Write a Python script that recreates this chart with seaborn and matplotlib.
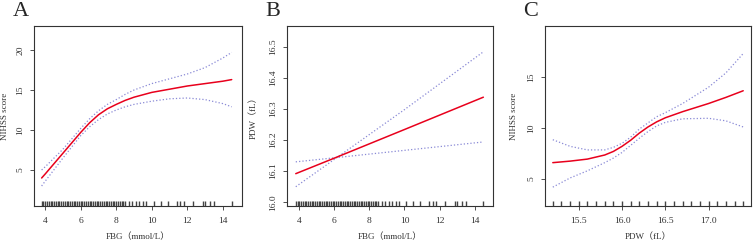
import numpy as np
import pandas as pd
import matplotlib
matplotlib.use("Agg")
import matplotlib.pyplot as plt
import seaborn as sns

# --- Data ---
# Panel A: NIHSS score vs FBG (restricted cubic spline fit + 95% CI)
fbg_a = [3.8, 4.0, 5.0, 6.0, 6.5, 7.0, 7.5, 8.0, 8.5, 9.0, 10.0, 11.0, 12.0, 13.0, 14.0, 14.5]
nihss_a = [4.0, 4.5, 7.1, 9.7, 10.9, 11.9, 12.65, 13.2, 13.7, 14.1, 14.7, 15.1, 15.5, 15.8, 16.1, 16.3]
nihss_a_hi = [5.0, 5.4, 7.6, 10.2, 11.4, 12.4, 13.2, 13.8, 14.45, 15.0, 15.8, 16.4, 17.0, 17.8, 19.0, 19.7]
nihss_a_lo = [3.0, 3.6, 6.5, 9.3, 10.4, 11.3, 12.0, 12.5, 12.9, 13.2, 13.6, 13.9, 14.0, 13.8, 13.3, 12.9]

# Panel B: PDW vs FBG (linear)
fbg_b = [3.8, 6.0, 10.0, 14.5]
pdw_b = [16.092, 16.142, 16.234, 16.338]
pdw_b_hi = [16.05, 16.138, 16.298, 16.484]
pdw_b_lo = [16.13, 16.143, 16.167, 16.194]

# Panel C: NIHSS score vs PDW
pdw_c = [15.2, 15.4, 15.6, 15.8, 15.9, 16.0, 16.1, 16.2, 16.3, 16.4, 16.5, 16.7, 17.0, 17.2, 17.4]
nihss_c = [6.6, 6.75, 6.95, 7.35, 7.7, 8.2, 8.8, 9.5, 10.1, 10.6, 11.0, 11.6, 12.4, 13.0, 13.65]
nihss_c_hi = [8.85, 8.2, 7.85, 7.85, 8.1, 8.5, 9.1, 9.9, 10.5, 11.1, 11.5, 12.4, 14.0, 15.4, 17.3]
nihss_c_lo = [4.2, 5.1, 5.8, 6.6, 7.05, 7.6, 8.3, 9.0, 9.65, 10.2, 10.55, 10.9, 10.95, 10.7, 10.1]

# Rug (observed values)
fbg_rug = [3.8, 3.9, 4.0, 4.1, 4.2, 4.3, 4.4, 4.5, 4.6, 4.7, 4.8, 4.9, 5.0, 5.1,
           5.2, 5.3, 5.4, 5.5, 5.6, 5.7, 5.8, 5.9, 6.0, 6.1, 6.2, 6.3, 6.4, 6.5,
           6.6, 6.7, 6.8, 6.9, 7.0, 7.1, 7.2, 7.3, 7.4, 7.5, 7.6, 7.7, 7.8, 7.9,
           8.0, 8.1, 8.2, 8.3, 8.4, 8.5, 8.7, 8.9, 9.1, 9.3, 9.5, 9.7, 10.1,
           10.5, 10.9, 11.4, 11.6, 11.8, 12.3, 12.9, 13.0, 13.3, 13.5, 14.5]
pdw_rug = [15.2, 15.3, 15.4, 15.5, 15.6, 15.7, 15.8, 15.9, 16.0, 16.1, 16.2,
           16.3, 16.4, 16.5, 16.6, 16.7, 16.8, 16.9, 17.0, 17.1, 17.2, 17.3, 17.4]

sns.set_style("ticks")
plt.rcParams['font.family'] = ['Liberation Serif', 'Noto Sans CJK SC', 'DejaVu Sans']

RED = '#e8001c'
CI = '#8a8ad6'

fig = plt.figure(figsize=(7.53, 2.41), dpi=100)
W, H = 753, 241
boxes = [(34, 242), (287, 493), (545, 751)]
axes = [fig.add_axes([l / W, (H - 206) / H, (r - l) / W, 180 / H]) for l, r in boxes]

panels = [
    (fbg_a, nihss_a, nihss_a_hi, nihss_a_lo, fbg_rug, 'FBG（mmol/L）', 'NIHSS score',
     (3.37, 15.08), (0.5, 23.0), [4, 6, 8, 10, 12, 14], [5, 10, 15, 20], '{:g}'),
    (fbg_b, pdw_b, pdw_b_hi, pdw_b_lo, fbg_rug, 'FBG（mmol/L）', 'PDW（fL）',
     (3.3, 15.05), (15.988, 16.567), [4, 6, 8, 10, 12, 14],
     [16.0, 16.1, 16.2, 16.3, 16.4, 16.5], '{:.1f}'),
    (pdw_c, nihss_c, nihss_c_hi, nihss_c_lo, pdw_rug, 'PDW（fL）', 'NIHSS score',
     (15.11, 17.49), (2.35, 20.0), [15.5, 16.0, 16.5, 17.0], [5, 10, 15], '{:g}'),
]
ylab_x = [-0.118, -0.14, -0.13]

for i, (ax, p) in enumerate(zip(axes, panels)):
    x, y, hi, lo, rug, xl, yl, xlim, ylim, xt, yt, yfmt = p
    sns.lineplot(x=x, y=hi, ax=ax, color=CI, lw=0.9, linestyle=':')
    sns.lineplot(x=x, y=lo, ax=ax, color=CI, lw=0.9, linestyle=':')
    sns.lineplot(x=x, y=y, ax=ax, color=RED, lw=1.1)
    sns.rugplot(x=rug, ax=ax, height=0.03, color='#444444', lw=0.5)
    ax.set_xlim(*xlim)
    ax.set_ylim(*ylim)
    ax.set_xticks(xt)
    if i == 2:
        ax.set_xticklabels(['{:.1f}'.format(v) for v in xt])
    ax.set_yticks(yt)
    ax.set_yticklabels([yfmt.format(v) for v in yt], rotation=90, va='center')
    ax.tick_params(axis='both', length=3, width=0.6, labelsize=6.8, colors='#333333')
    ax.tick_params(axis='x', pad=5)
    ax.tick_params(axis='y', pad=4)
    for s in ax.spines.values():
        s.set_visible(True)
        s.set_linewidth(0.8)
        s.set_color('#333333')
    ax.set_xlabel(xl, fontsize=6.5, color='#333333')
    ax.set_ylabel(yl, fontsize=6.5, color='#333333')
    ax.xaxis.set_label_coords(0.5, -0.15)
    ax.yaxis.set_label_coords(ylab_x[i], 0.5)

for lab, xpos in zip(['A', 'B', 'C'], [13, 265, 523]):
    fig.text(xpos / W, 1 - 2 / H, lab, fontsize=16, va='top', ha='left',
             family='Liberation Serif')

fig.savefig('out.png', dpi=100)
